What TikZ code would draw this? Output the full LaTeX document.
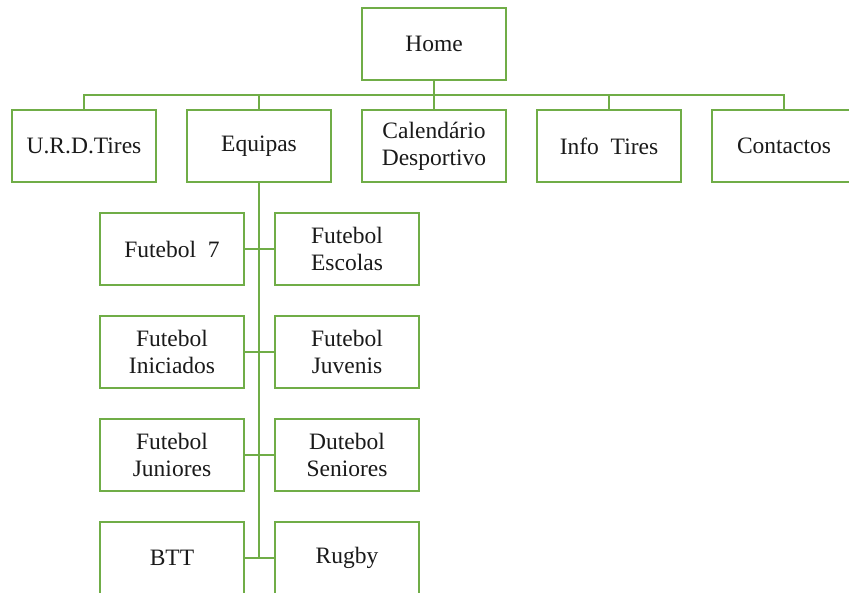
\documentclass[tikz,border=0pt]{standalone}
\usepackage{fontspec}
\setmainfont{Liberation Serif}
\definecolor{lgreen}{HTML}{70AD47}
\definecolor{txt}{HTML}{1A1A1A}
\begin{document}
\begin{tikzpicture}[x=1pt,y=-1pt,
  box/.style={draw=lgreen,line width=1.6pt,fill=white,minimum width=144pt,minimum height=72pt,
    inner sep=0pt,align=center,text=txt,font=\fontsize{23.5}{26.7}\selectfont},
  link/.style={draw=lgreen,line width=1.6pt}]
\useasboundingbox (0,0) rectangle (849,592);
\clip (0,0) rectangle (849,592);
% top
\node[box] (home) at (434,44) {Home};
\node[box] (urd) at (84,146) {U.R.D.Tires};
\node[box] (equipas) at (259,146) {Equipas};
\node[box] (cal) at (434,146) {Calend\'ario\\Desportivo};
\node[box] (info) at (609,146) {Info\ \ Tires};
\node[box] (cont) at (784,146) {Contactos};
% children
\node[box] (f7) at (172,249) {Futebol\ \ 7};
\node[box] (fesc) at (347,249) {Futebol\\Escolas};
\node[box] (fini) at (172,352) {Futebol\\Iniciados};
\node[box] (fjuv) at (347,352) {Futebol\\Juvenis};
\node[box] (fjun) at (172,455) {Futebol\\Juniores};
\node[box] (dsen) at (347,455) {Dutebol\\Seniores};
\node[box] (btt) at (172,558) {BTT};
\node[box] (rug) at (347,558) {Rugby};
% connectors
\coordinate (bus) at (434,95);
\draw[link] (home.south) -- (bus);
\draw[link] (urd.north) |- (bus) -| (cont.north);
\draw[link] (equipas.north) -- ++(0,-15);
\draw[link] (cal.north) -- ++(0,-15);
\draw[link] (info.north) -- ++(0,-15);
\coordinate (vend) at (259,558);
\draw[link] (equipas.south) -- (vend);
\draw[link] (f7.east) -- (fesc.west);
\draw[link] (fini.east) -- (fjuv.west);
\draw[link] (fjun.east) -- (dsen.west);
\draw[link] (btt.east) -- (rug.west);
\end{tikzpicture}
\end{document}
